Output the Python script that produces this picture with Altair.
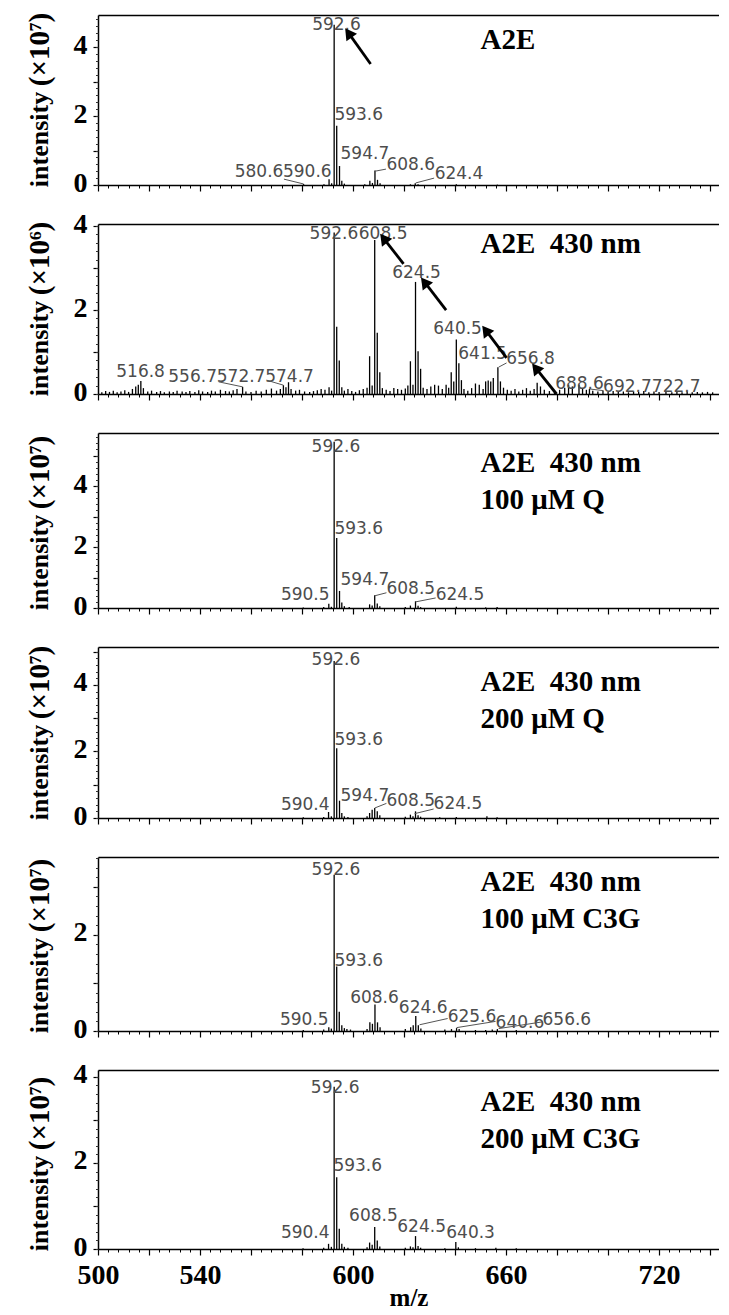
import math
import altair as alt
import pandas as pd

# ---------------- axis / layout constants ----------------
X_MIN, X_MAX = 500, 743.5
PLOT_W = 621
X_MAJOR = list(range(500, 744, 20))
X_MINOR = list(range(500, 744, 4))
X_LABELED = [500, 540, 600, 660, 720]
HEIGHTS = [170, 170, 175, 171, 174, 179]
YMAX = [4.93, 4.05, 5.74, 5.14, 3.62, 4.16]
EXPONENT = ["\u2077", "\u2076", "\u2077", "\u2077", "\u2077", "\u2077"]
SERIF = "Liberation Serif"
SANS = "DejaVu Sans"
GAP = "\u00a0\u00a0"

# ---------------- panel 1 : A2E (x10^7) ----------------
P1_MZ = [580.6, 588.6, 590.6, 591.6, 592.6, 593.6, 594.7, 595.6, 596.6, 604.6, 606.6, 607.6,
         608.6, 609.6, 610.6, 622.5, 624.4, 625.5, 640.5, 656.6]
P1_INT = [0.03, 0.02, 0.17, 0.05, 4.65, 1.72, 0.55, 0.12, 0.04, 0.02, 0.12, 0.06,
          0.42, 0.15, 0.05, 0.02, 0.05, 0.02, 0.02, 0.01]
P1_LAB_TEXT = ["592.6", "593.6", "594.7", "608.6", "624.4", "580.6", "590.6"]
P1_LAB_X = [593.5, 592.7, 595.1, 613.1, 632.0, 572.7, 591.6]
P1_LAB_Y = [4.50, 1.88, 0.75, 0.43, 0.17, 0.23, 0.23]
P1_LAB_ALIGN = ["center", "left", "left", "left", "left", "right", "right"]
P1_LEADERS = [(572.9, 0.17, 580.6, 0.03), (608.6, 0.40, 612.9, 0.46), (624.6, 0.06, 631.8, 0.20)]
P1_ARROWS = [(606.9, 3.51, 598.2, 4.41)]
P1_NOTES = ["A2E"]
P1_NOTE_Y = [3.95]

# ---------------- panel 2 : A2E 430 nm (x10^6) ----------------
P2_MZ = [501.5, 503, 504.5, 506, 507.5, 509, 510.5, 512, 513.5, 514.8, 515.8, 516.8, 517.8, 519.5,
         521, 523, 524.5, 526, 528, 529.5, 531, 533, 534.5, 536, 538, 539.5, 541, 543, 544.5, 546,
         548, 550, 551.5, 553, 554.5, 556.7, 558, 560, 562, 564, 566, 568, 570, 571.5, 572.7, 573.7,
         574.7, 575.7, 577.5, 579, 581, 583, 584.5, 586, 587.5, 589, 590.6, 591.6, 592.6, 593.6,
         594.6, 595.6, 596.6, 598, 599.5, 601, 602.5, 604, 605.5, 606.5, 607.5, 608.5, 609.5, 610.5,
         611.5, 613, 614.5, 616, 617.5, 619, 620.5, 621.5, 622.5, 623.5, 624.5, 625.5, 626.5, 627.5,
         629, 630.5, 632, 633.5, 635, 636.5, 637.5, 638.5, 639.5, 640.5, 641.5, 642.5, 643.5, 645,
         646.5, 648, 649.5, 651, 652, 653, 654, 655, 656.8, 657.8, 659, 660.5, 662, 663.5, 665,
         666.5, 668, 669.5, 671, 672.2, 673.5, 675, 677, 679, 681, 683, 684.5, 686, 688.6, 690,
         691.5, 692.7, 694, 696, 698, 700, 702, 704, 706, 708, 710, 712, 714, 716, 718, 720, 722.7,
         725, 727, 729, 731, 733, 735, 737, 739, 741]
P2_INT = [0.04, 0.07, 0.05, 0.08, 0.04, 0.06, 0.09, 0.05, 0.12, 0.18, 0.22, 0.31, 0.14, 0.06,
          0.08, 0.05, 0.07, 0.04, 0.06, 0.05, 0.08, 0.06, 0.05, 0.07, 0.05, 0.09, 0.06, 0.05, 0.08, 0.06,
          0.10, 0.07, 0.06, 0.09, 0.12, 0.17, 0.06, 0.05, 0.08, 0.06, 0.10, 0.13, 0.08, 0.12, 0.21, 0.16,
          0.28, 0.12, 0.08, 0.10, 0.06, 0.05, 0.07, 0.09, 0.12, 0.10, 0.16, 0.08, 3.85, 1.60,
          0.80, 0.16, 0.08, 0.12, 0.07, 0.05, 0.09, 0.12, 0.15, 0.90, 0.20, 3.67, 1.46, 0.52,
          0.14, 0.10, 0.07, 0.14, 0.12, 0.10, 0.13, 0.20, 0.78, 0.22, 2.67, 1.02, 0.60, 0.15,
          0.12, 0.18, 0.22, 0.20, 0.12, 0.22, 0.15, 0.52, 0.30, 1.30, 0.73, 0.33, 0.12, 0.08,
          0.14, 0.25, 0.22, 0.12, 0.30, 0.32, 0.30, 0.38, 0.64, 0.30, 0.15, 0.10, 0.08, 0.12, 0.06,
          0.10, 0.14, 0.08, 0.12, 0.27, 0.18, 0.10, 0.07, 0.08, 0.10, 0.15, 0.22, 0.18, 0.22, 0.14,
          0.10, 0.12, 0.08, 0.06, 0.08, 0.05, 0.07, 0.05, 0.06, 0.04, 0.06, 0.05, 0.07, 0.04, 0.06, 0.05, 0.07,
          0.04, 0.05, 0.04, 0.06, 0.04, 0.05, 0.04, 0.05, 0.04]
P2_LAB_TEXT = ["592.6", "608.5", "624.5", "640.5", "641.5", "656.8", "688.6", "692.7", "722.7",
               "516.8", "556.7", "572.7", "574.7"]
P2_LAB_X = [592.5, 611.8, 624.9, 641.0, 650.8, 669.6, 688.8, 707.6, 726.7, 516.7, 537.1, 556.1, 575.1]
P2_LAB_Y = [3.69, 3.69, 2.76, 1.43, 0.83, 0.71, 0.12, 0.05, 0.05, 0.40, 0.29, 0.29, 0.29]
P2_LAB_ALIGN = ["center"] * 13
P2_LEADERS = [(547.3, 0.29, 556.7, 0.17), (566.1, 0.33, 572.7, 0.21), (657.1, 0.64, 660.2, 0.74),
              (692.7, 0.12, 698.2, 0.08)]
P2_ARROWS = [(619.8, 3.10, 612.0, 3.71), (636.5, 2.00, 628.0, 2.67), (660.2, 0.86, 652.0, 1.52),
             (679.8, 0.00, 671.6, 0.62)]
P2_NOTES = ["A2E" + GAP + "430 nm"]
P2_NOTE_Y = [3.36]

# ---------------- panel 3 : 100 uM Q (x10^7) ----------------
P3_MZ = [580.5, 588.5, 590.5, 591.5, 592.6, 593.6, 594.7, 595.6, 596.6, 598.5, 606.5, 607.5, 608.5,
         609.5, 610.5, 620.5, 622.5, 624.5, 625.5, 626.5, 640.5, 652.0, 656.5]
P3_INT = [0.02, 0.03, 0.14, 0.04, 5.45, 2.30, 0.56, 0.18, 0.06, 0.03, 0.12, 0.08, 0.42,
          0.15, 0.06, 0.03, 0.08, 0.22, 0.07, 0.03, 0.04, 0.02, 0.03]
P3_LAB_TEXT = ["592.6", "593.6", "594.7", "608.5", "624.5", "590.5"]
P3_LAB_X = [593.3, 592.7, 595.1, 613.1, 632.4, 590.8]
P3_LAB_Y = [5.11, 2.43, 0.75, 0.46, 0.26, 0.26]
P3_LAB_ALIGN = ["center", "left", "left", "left", "left", "right"]
P3_LEADERS = [(608.5, 0.40, 613.1, 0.50), (624.5, 0.20, 632.4, 0.33)]
P3_ARROWS = []
P3_NOTES = ["A2E" + GAP + "430 nm", "100 \u03bcM Q"]
P3_NOTE_Y = [4.46, 3.25]

# ---------------- panel 4 : 200 uM Q (x10^7) ----------------
P4_MZ = [580.5, 588.5, 590.4, 591.5, 592.6, 593.6, 594.7, 595.6, 596.6, 598.0, 605.5, 606.5, 607.5,
         608.5, 609.5, 610.5, 620.5, 622.5, 623.5, 624.5, 625.5, 626.5, 634.0, 640.5, 652.5, 656.5]
P4_INT = [0.02, 0.03, 0.18, 0.05, 4.72, 2.10, 0.52, 0.15, 0.05, 0.03, 0.05, 0.15, 0.25,
          0.30, 0.20, 0.08, 0.04, 0.10, 0.05, 0.20, 0.08, 0.04, 0.02, 0.03, 0.05, 0.02]
P4_LAB_TEXT = ["592.6", "593.6", "594.7", "590.4", "608.5", "624.5"]
P4_LAB_X = [593.3, 592.7, 595.1, 590.8, 613.1, 631.6]
P4_LAB_Y = [4.60, 2.20, 0.51, 0.24, 0.36, 0.27]
P4_LAB_ALIGN = ["center", "left", "left", "right", "left", "left"]
P4_LEADERS = [(608.5, 0.30, 613.1, 0.44), (624.1, 0.13, 631.6, 0.27)]
P4_ARROWS = []
P4_NOTES = ["A2E" + GAP + "430 nm", "200 \u03bcM Q"]
P4_NOTE_Y = [3.82, 2.71]

# ---------------- panel 5 : 100 uM C3G (x10^7) ----------------
P5_MZ = [580.5, 588.5, 590.5, 591.5, 592.6, 593.6, 594.6, 595.6, 596.6, 597.6, 599.0, 605.5, 606.6,
         607.6, 608.6, 609.6, 610.6, 620.5, 622.6, 623.6, 624.6, 625.6, 626.6, 636.0, 638.6, 640.6,
         641.6, 648.0, 652.0, 654.6, 656.6, 664.0]
P5_INT = [0.02, 0.03, 0.08, 0.05, 3.25, 1.34, 0.40, 0.12, 0.06, 0.04, 0.03, 0.04, 0.18,
          0.15, 0.55, 0.18, 0.08, 0.04, 0.08, 0.12, 0.31, 0.12, 0.05, 0.03, 0.04, 0.06,
          0.04, 0.02, 0.02, 0.03, 0.04, 0.02]
P5_LAB_TEXT = ["592.6", "593.6", "590.5", "608.6", "624.6", "625.6", "640.6", "656.6"]
P5_LAB_X = [593.3, 592.7, 590.4, 608.4, 627.5, 637.1, 655.9, 674.3]
P5_LAB_Y = [3.25, 1.35, 0.125, 0.58, 0.375, 0.19, 0.07, 0.125]
P5_LAB_ALIGN = ["center", "left", "right", "center", "center", "left", "left", "left"]
P5_LEADERS = [(626.1, 0.13, 637.1, 0.26), (640.6, 0.07, 655.9, 0.20), (657.1, 0.05, 674.3, 0.19)]
P5_ARROWS = []
P5_NOTES = ["A2E" + GAP + "430 nm", "100 \u03bcM C3G"]
P5_NOTE_Y = [2.91, 2.14]

# ---------------- panel 6 : 200 uM C3G (x10^7) ----------------
P6_MZ = [580.4, 588.5, 590.4, 591.5, 592.6, 593.6, 594.6, 595.6, 596.6, 598.0, 605.5, 606.5, 607.5,
         608.5, 609.5, 610.5, 620.5, 622.5, 623.5, 624.5, 625.5, 626.5, 636.0, 640.3, 641.3, 648.0,
         656.0, 664.0]
P6_INT = [0.02, 0.03, 0.12, 0.05, 3.77, 1.67, 0.47, 0.12, 0.05, 0.03, 0.04, 0.15, 0.10,
          0.51, 0.20, 0.06, 0.03, 0.06, 0.04, 0.30, 0.07, 0.03, 0.02, 0.16, 0.04, 0.02,
          0.03, 0.02]
P6_LAB_TEXT = ["592.6", "593.6", "590.4", "608.5", "624.5", "640.3"]
P6_LAB_X = [593.0, 592.3, 590.8, 608.0, 626.9, 646.1]
P6_LAB_Y = [3.63, 1.81, 0.26, 0.65, 0.40, 0.26]
P6_LAB_ALIGN = ["center", "left", "right", "center", "center", "center"]
P6_LEADERS = []
P6_ARROWS = []
P6_NOTES = ["A2E" + GAP + "430 nm", "200 \u03bcM C3G"]
P6_NOTE_Y = [3.21, 2.35]

NOTE_X = 650.0

PANELS = [
    (P1_MZ, P1_INT, P1_LAB_TEXT, P1_LAB_X, P1_LAB_Y, P1_LAB_ALIGN, P1_LEADERS, P1_ARROWS, P1_NOTES, P1_NOTE_Y),
    (P2_MZ, P2_INT, P2_LAB_TEXT, P2_LAB_X, P2_LAB_Y, P2_LAB_ALIGN, P2_LEADERS, P2_ARROWS, P2_NOTES, P2_NOTE_Y),
    (P3_MZ, P3_INT, P3_LAB_TEXT, P3_LAB_X, P3_LAB_Y, P3_LAB_ALIGN, P3_LEADERS, P3_ARROWS, P3_NOTES, P3_NOTE_Y),
    (P4_MZ, P4_INT, P4_LAB_TEXT, P4_LAB_X, P4_LAB_Y, P4_LAB_ALIGN, P4_LEADERS, P4_ARROWS, P4_NOTES, P4_NOTE_Y),
    (P5_MZ, P5_INT, P5_LAB_TEXT, P5_LAB_X, P5_LAB_Y, P5_LAB_ALIGN, P5_LEADERS, P5_ARROWS, P5_NOTES, P5_NOTE_Y),
    (P6_MZ, P6_INT, P6_LAB_TEXT, P6_LAB_X, P6_LAB_Y, P6_LAB_ALIGN, P6_LEADERS, P6_ARROWS, P6_NOTES, P6_NOTE_Y),
]

TITLE_X = -59


def make_panel(i, spec, bottom):
    mz, inten, lab_text, lab_x, lab_y, lab_align, leaders, arrows, notes, note_y = spec
    h = HEIGHTS[i]
    ymax = YMAX[i]
    xs = alt.Scale(domain=[X_MIN, X_MAX], nice=False, zero=False)
    ys = alt.Scale(domain=[0, ymax], nice=False, zero=False)
    peaks = pd.DataFrame({"mz": mz, "inten": inten})

    y_major = list(range(0, int(ymax) + 1))
    y_minor = [round(0.2 * k, 1) for k in range(int(ymax / 0.2) + 1)]

    x_main = dict(values=X_MAJOR, orient="bottom", tickSize=6, tickWidth=1.2, tickColor="black",
                  domainColor="black", domainWidth=1.5, grid=False, labelFlush=False, labelOverlap=False)
    if bottom:
        lab_list = ",".join(str(v) for v in X_LABELED)
        x_main.update(labels=True,
                      labelExpr=f"indexof([{lab_list}], datum.value) >= 0 ? datum.label : ''",
                      labelFont=SERIF, labelFontWeight="bold", labelFontSize=28, labelColor="black",
                      labelPadding=6, title="m/z", titleFont=SERIF, titleFontWeight="bold",
                      titleFontSize=25, titleColor="black", titlePadding=-4)
    else:
        x_main.update(labels=False, title=None)

    title_common = dict(titleFont=SERIF, titleFontWeight="bold", titleColor="black", titleAngle=270,
                        titleAlign="center", titleBaseline="middle", titleX=TITLE_X)

    y_main = dict(values=y_major, orient="left", tickSize=5, tickWidth=1.2, tickColor="black",
                  domainColor="black", domainWidth=1.5, grid=False, labelOverlap=False,
                  labelExpr="datum.value % 2 == 0 ? datum.label : ''",
                  labelFont=SERIF, labelFontWeight="bold", labelFontSize=28, labelColor="black",
                  labelPadding=6, labelBaseline="middle", labelOffset=-2,
                  title="intensity", titleFontSize=26, titleY=h - 46, **title_common)

    x_minor = dict(values=X_MINOR, orient="bottom", tickSize=3, tickWidth=1, tickColor="black",
                   domain=False, labels=False, title=None, grid=False)
    y_minor_ax = dict(values=y_minor, orient="left", tickSize=2.5, tickWidth=1, tickColor="#333",
                      domain=False, labels=False, grid=False,
                      title=f"(\u00d710{EXPONENT[i]})", titleFontSize=29, titleY=h - 136,
                      **title_common)
    x_top = dict(orient="top", domain=True, domainColor="black", domainWidth=1.5, ticks=False,
                 labels=False, title=None, grid=False)

    layers = []
    layers.append(alt.Chart(peaks).mark_rule(color="black", strokeWidth=1.3).encode(
        x=alt.X("mz:Q", scale=xs, axis=alt.Axis(**x_main)),
        y=alt.Y("inten:Q", scale=ys, axis=alt.Axis(**y_main)),
        y2=alt.datum(0),
    ))
    layers.append(alt.Chart(peaks).mark_rule(opacity=0).encode(
        x=alt.X("mz:Q", scale=xs, axis=alt.Axis(**x_minor)),
        y=alt.Y("inten:Q", scale=ys, axis=alt.Axis(**y_minor_ax)),
    ))
    layers.append(alt.Chart(peaks).mark_rule(opacity=0).encode(
        x=alt.X("mz:Q", scale=xs, axis=alt.Axis(**x_top)),
        y=alt.Y("inten:Q", scale=ys, axis=None),
    ))

    labels = pd.DataFrame({"text": lab_text, "x": lab_x, "y": lab_y, "align": lab_align})
    for al in ["left", "center", "right"]:
        sub = labels[labels["align"] == al]
        if len(sub):
            layers.append(alt.Chart(sub).mark_text(
                align=al, baseline="alphabetic", font=SANS, fontSize=17, color="#4d4d4d"
            ).encode(
                x=alt.X("x:Q", scale=xs, axis=None),
                y=alt.Y("y:Q", scale=ys, axis=None),
                text="text:N",
            ))

    if leaders:
        ld = pd.DataFrame(leaders, columns=["x", "y", "x2", "y2"])
        layers.append(alt.Chart(ld).mark_rule(color="#555555", strokeWidth=1).encode(
            x=alt.X("x:Q", scale=xs, axis=None), y=alt.Y("y:Q", scale=ys, axis=None),
            x2="x2:Q", y2="y2:Q"))

    if arrows:
        xppu = PLOT_W / (X_MAX - X_MIN)
        yppu = h / ymax
        ar = pd.DataFrame(arrows, columns=["x", "y", "x2", "y2"])
        ar["ang"] = [
            (math.degrees(math.atan2((r.x2 - r.x) * xppu, (r.y2 - r.y) * yppu)) + 360) % 360
            for r in ar.itertuples()
        ]
        layers.append(alt.Chart(ar).mark_rule(color="black", strokeWidth=2.8).encode(
            x=alt.X("x:Q", scale=xs, axis=None), y=alt.Y("y:Q", scale=ys, axis=None),
            x2="x2:Q", y2="y2:Q"))
        layers.append(alt.Chart(ar).mark_point(shape="triangle-up", filled=True, size=170,
                                               color="black", opacity=1).encode(
            x=alt.X("x2:Q", scale=xs, axis=None), y=alt.Y("y2:Q", scale=ys, axis=None),
            angle=alt.Angle("ang:Q", scale=None)))

    nt = pd.DataFrame({"text": notes, "x": [NOTE_X] * len(notes), "y": note_y})
    layers.append(alt.Chart(nt).mark_text(
        align="left", baseline="alphabetic", font=SERIF, fontWeight="bold", fontSize=29, color="black"
    ).encode(
        x=alt.X("x:Q", scale=xs, axis=None),
        y=alt.Y("y:Q", scale=ys, axis=None),
        text="text:N",
    ))

    return alt.layer(*layers).resolve_axis(x="independent", y="independent").properties(
        width=PLOT_W, height=h)


panels = [make_panel(i, spec, i == len(PANELS) - 1) for i, spec in enumerate(PANELS)]

chart = alt.vconcat(*panels, spacing=39, bounds="flush").properties(
    padding={"left": 16, "top": 4, "right": 0, "bottom": 0}
).configure(background="white").configure_view(stroke=None)

chart.save("out.html", embed_options={"renderer": "svg", "actions": False})
